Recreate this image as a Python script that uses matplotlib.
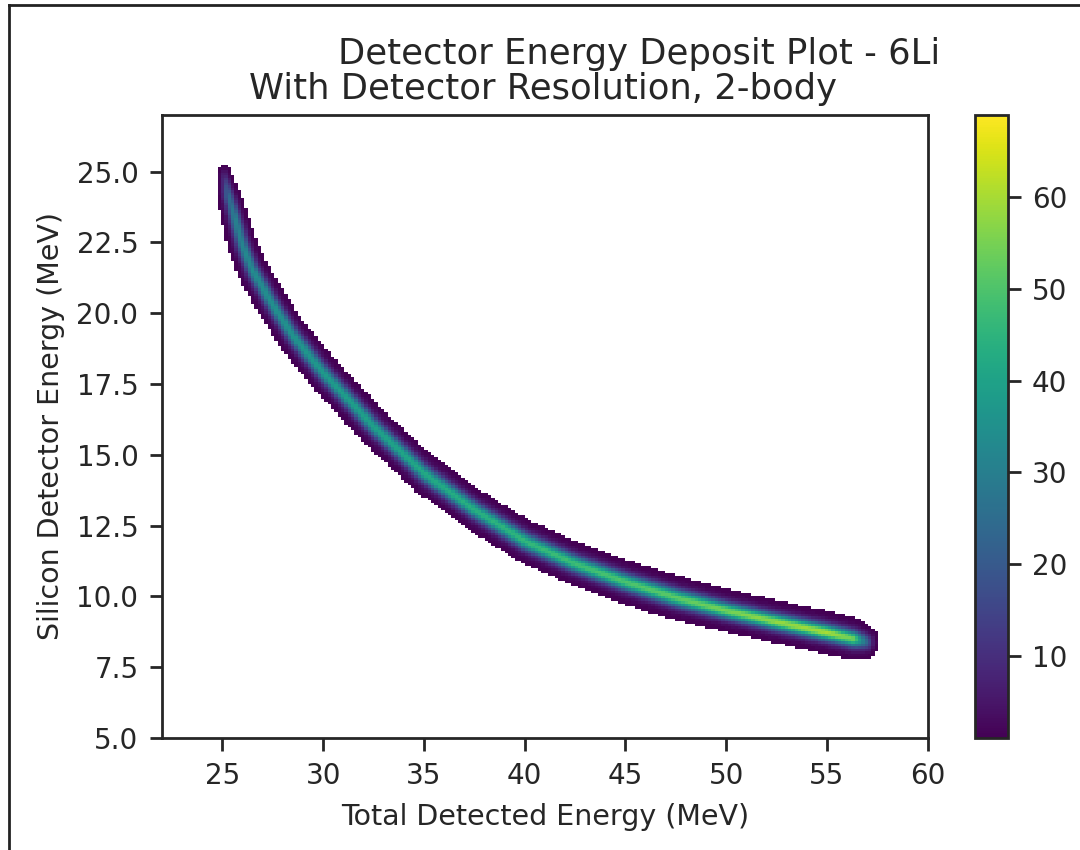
import numpy as np
import matplotlib
matplotlib.use("Agg")
import matplotlib.pyplot as plt
from matplotlib.lines import Line2D

# ridge of the band (MeV)
ridge_x = [25.1, 25.3, 25.6, 26.0, 26.5, 27.5, 28.5, 30.0, 32.5, 35.0, 37.5,
           40.0, 42.5, 45.0, 47.5, 50.0, 52.5, 55.0, 56.3, 57.0]
ridge_y = [24.85, 24.15, 23.4, 22.4, 21.5, 20.3, 19.2, 17.9, 16.0, 14.35, 13.05,
           11.95, 11.15, 10.5, 9.95, 9.5, 9.1, 8.72, 8.5, 8.38]
# peak counts along the ridge and band half-width (sigma, MeV)
peak_counts = [8, 24, 30, 32, 34, 35, 36, 38, 40, 42, 44,
               46, 48, 50, 52, 55, 58, 60, 54, 20]
band_sigma = [0.14, 0.17, 0.19, 0.2, 0.2, 0.2, 0.2, 0.2, 0.2, 0.2, 0.2,
              0.2, 0.2, 0.2, 0.2, 0.19, 0.19, 0.19, 0.19, 0.18]

n_bins = 200
x_range = (24.6, 57.7)
y_range = (7.7, 25.5)
cmin, cmax = 1, 69

# counts per bin, built from the ridge read above
x_edges = np.linspace(*x_range, n_bins + 1)
y_edges = np.linspace(*y_range, n_bins + 1)
xc = 0.5 * (x_edges[:-1] + x_edges[1:])
yc = 0.5 * (y_edges[:-1] + y_edges[1:])
xx, yy = np.meshgrid(xc, yc, indexing="ij")

t = np.linspace(0, len(ridge_x) - 1, 1500)
idx = np.arange(len(ridge_x))
rx = np.interp(t, idx, ridge_x)
ry = np.interp(t, idx, ridge_y)
rp = np.interp(t, idx, peak_counts)
rs = np.interp(t, idx, band_sigma)

counts = np.zeros_like(xx)
for px, py, pk, sg in zip(rx, ry, rp, rs):
    d2 = (xx - px) ** 2 + (yy - py) ** 2
    core = 0.9 * np.exp(-d2 / (2 * sg ** 2)) + 0.1 * np.exp(-d2 / (2 * (1.8 * sg) ** 2))
    counts = np.maximum(counts, pk * core)
counts = np.round(counts)

fig = plt.figure(figsize=(10.8, 8.5), dpi=100)
ax = fig.add_axes([0.15, 0.1318, 0.709, 0.733])
cax = fig.add_axes([0.9028, 0.1318, 0.0306, 0.733])

h = ax.hist2d(xx.ravel(), yy.ravel(), bins=[x_edges, y_edges],
              weights=counts.ravel(), cmap="viridis", cmin=cmin,
              vmin=cmin, vmax=cmax)
cb = fig.colorbar(h[3], cax=cax)
cb.set_ticks([10, 20, 30, 40, 50, 60])

ax.set_xlim(22, 60)
ax.set_ylim(5, 27)
ax.set_xticks([25, 30, 35, 40, 45, 50, 55, 60])
ax.set_yticks([5, 7.5, 10, 12.5, 15, 17.5, 20, 22.5, 25])
ax.yaxis.set_major_formatter(matplotlib.ticker.FormatStrFormatter("%.1f"))

fs = 20
for a in (ax, cax):
    a.tick_params(labelsize=fs, length=9, width=2, colors="#262626", pad=8)
    for s in a.spines.values():
        s.set_linewidth(2)
        s.set_color("#262626")
cb.outline.set_linewidth(2)

ax.set_xlabel("Total Detected Energy (MeV)", fontsize=20.5, color="#262626", labelpad=10)
ax.set_ylabel("Silicon Detector Energy (MeV)", fontsize=20.5, color="#262626", labelpad=8)

fig.text(0.5917, 0.9245, "Detector Energy Deposit Plot - 6Li", fontsize=25.5,
         ha="center", va="baseline", color="#262626")
fig.text(0.503, 0.8835, "With Detector Resolution, 2-body", fontsize=25.5,
         ha="center", va="baseline", color="#262626")

# screenshot frame on the left and top
fig.add_artist(Line2D([0.0085, 0.0085], [0.0, 0.994], transform=fig.transFigure,
                      color="#222222", lw=2))
fig.add_artist(Line2D([0.0085, 1.0], [0.994, 0.994], transform=fig.transFigure,
                      color="#222222", lw=2))

fig.savefig("out.png", dpi=100)
